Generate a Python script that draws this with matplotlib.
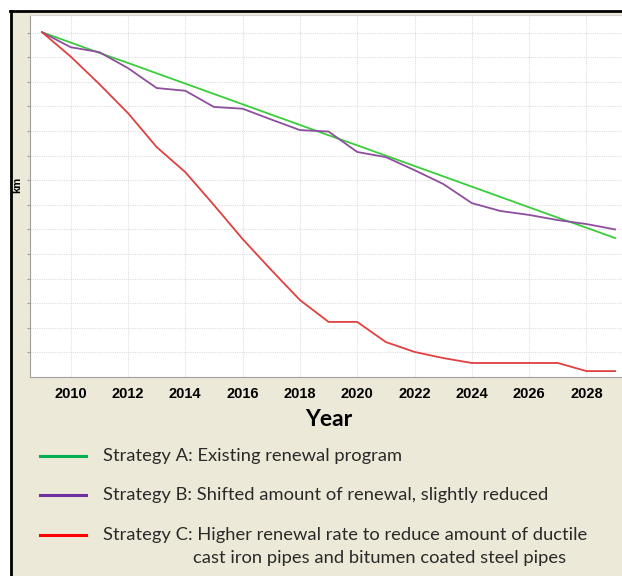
import matplotlib.pyplot as plt
from matplotlib.lines import Line2D
from matplotlib.patches import Rectangle

years = list(range(2009, 2030))

# km remaining (no scale given on chart, read in grid units)
strategy_a = [14.02, 13.60, 13.18, 12.77, 12.35, 11.93, 11.51, 11.09, 10.67, 10.25,
              9.83, 9.42, 9.00, 8.58, 8.16, 7.74, 7.32, 6.90, 6.48, 6.07, 5.65]
strategy_b = [14.02, 13.41, 13.21, 12.56, 11.75, 11.64, 10.98, 10.91, 10.47, 10.04,
              9.98, 9.15, 8.94, 8.41, 7.85, 7.07, 6.75, 6.59, 6.38, 6.22, 6.00]
strategy_c = [14.02, 13.03, 11.91, 10.73, 9.35, 8.33, 6.99, 5.61, 4.35, 3.13,
              2.24, 2.24, 1.42, 1.02, 0.77, 0.57, 0.57, 0.57, 0.57, 0.24, 0.24]

labels = ["Strategy A: Existing renewal program",
          "Strategy B: Shifted amount of renewal, slightly reduced",
          "Strategy C: Higher renewal rate to reduce amount of ductile",
          "cast iron pipes and bitumen coated steel pipes"]

W, H = 622, 576
fig = plt.figure(figsize=(W / 100, H / 100), dpi=100)
fig.patch.set_facecolor("white")

# beige panel with black top/left border
fig.add_artist(Rectangle((10 / W, 0), 1, (H - 11) / H, transform=fig.transFigure,
                         facecolor="#ECE9D8", edgecolor="none", zorder=0))
fig.add_artist(Line2D([10 / W, 1], [1 - 11 / H, 1 - 11 / H], transform=fig.transFigure,
                      color="black", lw=2))
fig.add_artist(Line2D([11 / W, 11 / W], [0, 1 - 11 / H], transform=fig.transFigure,
                      color="black", lw=2))

ax = fig.add_axes([30 / W, (H - 377) / H, (W - 30) / W, (377 - 15) / H])
ax.set_facecolor("white")
ax.plot(years, strategy_a, color="#3ACD3A", lw=1.3)
ax.plot(years, strategy_b, color="#8E4E9E", lw=1.3)
ax.plot(years, strategy_c, color="#E04040", lw=1.3)

ax.set_xlim(2008.58, 2029.24)
ax.set_ylim(0, 14.72)
ax.set_xticks(range(2010, 2029, 2))
ax.set_yticks(range(1, 15))
ax.set_yticklabels([])
ax.grid(True, color="#dedede", linestyle=(0, (1, 1)), lw=0.8)
ax.tick_params(axis="x", length=0, pad=7, labelsize=10.5)
ax.tick_params(axis="y", length=2, color="#a0a0a0")
for lab in ax.get_xticklabels():
    lab.set_fontweight("bold")
    lab.set_family("Liberation Sans")
ax.spines["left"].set_color("#a0a0a0")
ax.spines["bottom"].set_color("#a0a0a0")
ax.spines["top"].set_color("#d4d4d4")
ax.spines["right"].set_visible(False)

fig.text(17 / W, 1 - 185 / H, "km", rotation=90, ha="center", va="center",
         fontsize=8, fontweight="bold", family="Liberation Sans")
fig.text(329 / W, 1 - 419 / H, "Year", ha="center", va="center",
         fontsize=16.5, fontweight="bold", family="Lato")

# legend drawn by hand
leg_colors = ["#00B050", "#7030A0", "#FF0000"]
leg_y = [456, 495, 535]
for c, y, lab in zip(leg_colors, leg_y, labels):
    fig.add_artist(Line2D([40 / W, 86 / W], [1 - y / H, 1 - y / H],
                          transform=fig.transFigure, color=c, lw=2.2))
    fig.text(103 / W, 1 - y / H, lab, ha="left", va="center",
             fontsize=13.2, family="Lato", color="#2a2a2a")
fig.text(193 / W, 1 - 558 / H, labels[3], ha="left", va="center",
         fontsize=13.2, family="Lato", color="#2a2a2a")

fig.savefig("out.png", dpi=100)
